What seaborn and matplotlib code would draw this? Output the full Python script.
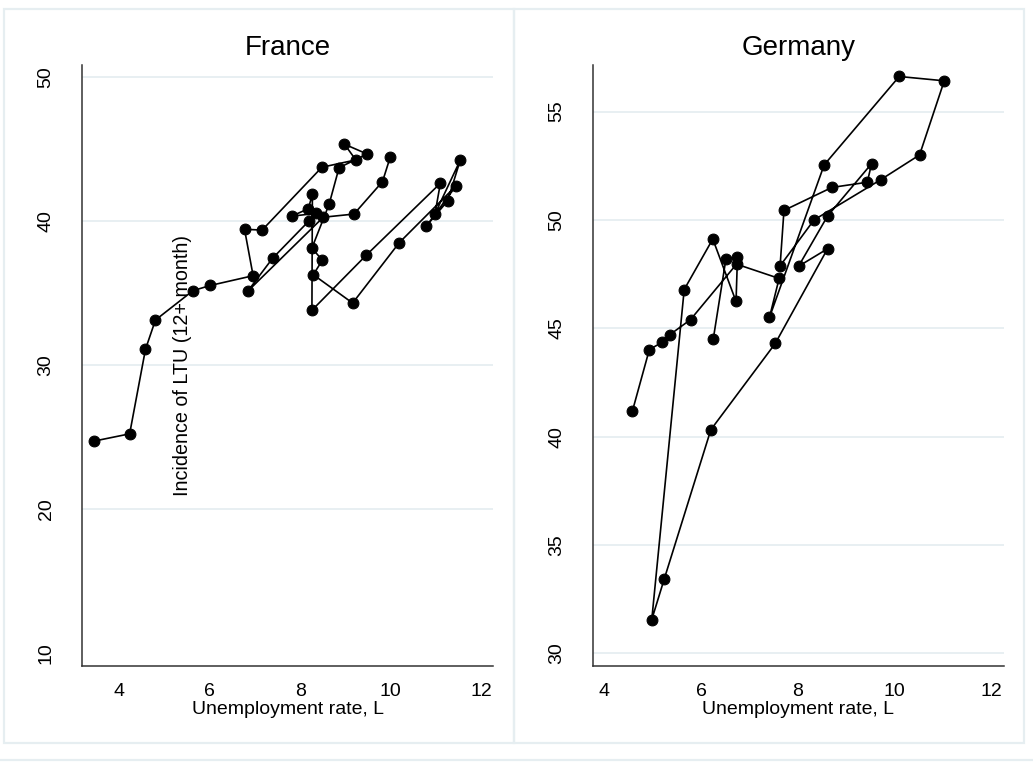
import matplotlib
matplotlib.use("Agg")
import matplotlib.pyplot as plt
import seaborn as sns
import pandas as pd
from matplotlib.patches import Rectangle
from matplotlib.lines import Line2D

# --- data: unemployment rate vs. incidence of long-term unemployment, in time order ---
france_unemp = [3.45, 4.23, 4.58, 4.80, 5.63, 6.01, 6.96, 6.77, 7.16, 8.48,
                9.23, 8.98, 9.48, 8.86, 8.64, 8.26, 8.49, 8.29, 9.16, 10.19,
                11.45, 10.79, 11.26, 11.54, 10.98, 11.10, 9.46, 8.26, 8.27, 8.18,
                7.81, 8.35, 8.20, 7.39, 6.84, 8.51, 9.19, 9.82, 9.99]
france_ltu = [24.7, 25.2, 31.07, 33.1, 35.14, 35.5, 36.18, 39.4, 39.35, 43.71,
              44.22, 45.31, 44.63, 43.68, 41.14, 38.10, 37.25, 36.25, 34.28, 38.47,
              42.43, 39.63, 41.37, 44.21, 40.47, 42.6, 37.6, 33.78, 41.83, 40.83,
              40.31, 40.51, 40.0, 37.39, 35.10, 40.24, 40.46, 42.71, 44.40]

germany_unemp = [6.25, 6.51, 6.75, 6.72, 6.24, 5.65, 4.98, 5.24, 6.20, 7.53,
                 8.61, 8.01, 8.61, 9.52, 9.43, 8.70, 7.71, 7.63, 8.33, 9.71,
                 10.51, 11.02, 10.09, 8.54, 7.41, 7.61, 6.73, 5.78, 5.35, 5.20,
                 4.93, 4.58]
germany_ltu = [44.51, 48.18, 48.30, 46.24, 49.12, 46.79, 31.56, 33.45, 40.32, 44.30,
               48.67, 47.86, 50.18, 52.60, 51.74, 51.50, 50.44, 47.88, 50.00, 51.86,
               53.00, 56.42, 56.62, 52.54, 45.50, 47.30, 47.96, 45.40, 44.70, 44.36,
               44.02, 41.18]

france_yticks = [10, 20, 30, 40, 50]
germany_yticks = [30, 35, 40, 45, 50, 55]
xticks = [4, 6, 8, 10, 12]

x_title = "Unemployment rate, L"
y_title = "Incidence of LTU (12+ month)"

sns.set_theme(style="white")
plt.rcParams["font.family"] = ["Liberation Sans", "DejaVu Sans"]

W, H = 1033, 764
fig = plt.figure(figsize=(W / 100, H / 100), dpi=100)
fig.patch.set_facecolor("white")

frame_col = "#e6eef1"
grid_col = "#e6eef1"
axis_col = "#333333"


def px_rect(x0, y0, x1, y1):
    return [x0 / W, 1 - y1 / H, (x1 - x0) / W, (y1 - y0) / H]


# outer panel frames
for (x0, y0, x1, y1) in [(3.5, 9, 514, 743), (514, 9, 1023.5, 743)]:
    fig.add_artist(Rectangle((x0 / W, 1 - y1 / H), (x1 - x0) / W, (y1 - y0) / H,
                             transform=fig.transFigure, fill=False,
                             edgecolor=frame_col, linewidth=1.6))
fig.add_artist(Line2D([0, 1], [1 - 760 / H, 1 - 760 / H], transform=fig.transFigure,
                      color=frame_col, linewidth=1.6))

panels = [
    dict(name="France", x=france_unemp, y=france_ltu, rect=px_rect(81.7, 65, 493.3, 665.7),
         xlim=(3.17, 12.27), ylim=(9.1, 50.81), yticks=france_yticks,
         grid=[20, 30, 40, 50], ylabel=True),
    dict(name="Germany", x=germany_unemp, y=germany_ltu, rect=px_rect(592.7, 65, 1004.3, 665.7),
         xlim=(3.76, 12.26), ylim=(29.43, 57.15), yticks=germany_yticks,
         grid=germany_yticks, ylabel=False),
]

for p in panels:
    ax = fig.add_axes(p["rect"])
    ax.set_facecolor("white")
    df = pd.DataFrame({"u": p["x"], "ltu": p["y"]})
    for g in p["grid"]:
        ax.axhline(g, color=grid_col, linewidth=1.3, zorder=0)
    sns.lineplot(data=df, x="u", y="ltu", sort=False, estimator=None, ax=ax,
                 color="black", linewidth=1.2, marker="o", markersize=7.8,
                 markeredgecolor="black", markerfacecolor="black", zorder=3)
    ax.set_xlim(*p["xlim"])
    ax.set_ylim(*p["ylim"])
    ax.set_xticks(xticks)
    ax.set_yticks(p["yticks"])
    ax.set_xticklabels([str(t) for t in xticks], fontsize=14)
    ax.set_yticklabels([str(t) for t in p["yticks"]], fontsize=14,
                       rotation=90, va="center")
    for s in ["top", "right"]:
        ax.spines[s].set_visible(False)
    for s in ["left", "bottom"]:
        ax.spines[s].set_color(axis_col)
        ax.spines[s].set_linewidth(1.1)
    ax.tick_params(axis="both", direction="out", length=6, width=1.0,
                   color=axis_col, labelcolor="black")
    ax.tick_params(axis="y", pad=13.5)
    ax.tick_params(axis="x", pad=6.5)
    ax.set_title(p["name"], fontsize=20, pad=7, color="black")
    ax.set_xlabel(x_title, fontsize=14, labelpad=1, color="black")
    if p["ylabel"]:
        ax.set_ylabel(y_title, fontsize=14.2, color="black")
        ax.yaxis.set_label_coords(0.268, 0.5)
    else:
        ax.set_ylabel("")

fig.savefig("out.png", dpi=100, facecolor="white")
